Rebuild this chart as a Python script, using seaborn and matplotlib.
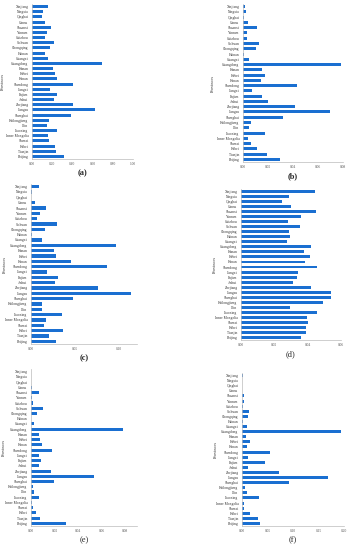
import pandas as pd
import matplotlib
matplotlib.use("Agg")
import matplotlib.pyplot as plt
import seaborn as sns
from matplotlib.ticker import FormatStrFormatter

sns.set_style("white")
plt.rcParams["font.family"] = ["Liberation Serif", "DejaVu Serif"]

# provinces, bottom to top as drawn
provinces = ["Beijing", "Tianjin", "Hebei", "Shanxi", "Inner Mongolia", "Liaoning", "Jilin",
             "Heilongjiang", "Shanghai", "Jiangsu", "Zhejiang", "Anhui", "Fujian", "Jiangxi",
             "Shandong", "Henan", "Hubei", "Hunan", "Guangdong", "Guangxi", "Hainan",
             "Chongqing", "Sichuan", "Guizhou", "Yunnan", "Shaanxi", "Gansu", "Qinghai",
             "Ningxia", "Xinjiang"]

vals_a = [0.32, 0.24, 0.223, 0.17, 0.154, 0.246, 0.148, 0.164, 0.384, 0.623, 0.403, 0.22,
          0.252, 0.18, 0.403, 0.252, 0.23, 0.207, 0.69, 0.154, 0.125, 0.18, 0.213, 0.125,
          0.148, 0.19, 0.131, 0.098, 0.108, 0.157]
vals_b = [0.0299, 0.0195, 0.011, 0.0067, 0.004, 0.0179, 0.0048, 0.0061, 0.0323, 0.0693,
          0.0413, 0.02, 0.0155, 0.0075, 0.0435, 0.0144, 0.0179, 0.0152, 0.0787, 0.0048,
          0.0008, 0.0104, 0.013, 0.003, 0.0035, 0.0115, 0.0037, 0.001, 0.0027, 0.0019]
vals_c = [0.0282, 0.021, 0.037, 0.0153, 0.0176, 0.0351, 0.0122, 0.013, 0.0477, 0.1137,
          0.076, 0.0271, 0.0305, 0.0187, 0.0866, 0.0454, 0.0282, 0.0263, 0.0966, 0.0122,
          0.001, 0.0156, 0.0302, 0.0065, 0.0103, 0.0168, 0.0042, 0.0002, 0.0015, 0.0088]
vals_d = [0.0358, 0.039, 0.039, 0.04, 0.0396, 0.0454, 0.0292, 0.049, 0.0538, 0.0542,
          0.042, 0.0314, 0.0336, 0.0342, 0.0456, 0.0382, 0.0414, 0.038, 0.042, 0.0278,
          0.0294, 0.0286, 0.0354, 0.0282, 0.0362, 0.045, 0.0302, 0.0246, 0.0286, 0.0442]
vals_e = [0.0299, 0.0076, 0.0039, 0.0014, 0.0008, 0.0068, 0.0028, 0.002, 0.0192, 0.0538,
          0.0172, 0.0068, 0.0087, 0.0068, 0.0177, 0.0096, 0.0079, 0.0068, 0.0783, 0.0025,
          0.0001, 0.0051, 0.0101, 0.0017, 0.0008, 0.0065, 0.0011, 0.0, 0.0001, 0.0003]
vals_f = [0.036, 0.032, 0.0157, 0.0039, 0.0039, 0.0333, 0.0092, 0.0052, 0.0915, 0.168,
          0.0732, 0.0111, 0.0458, 0.0111, 0.0549, 0.0105, 0.0163, 0.0078, 0.195, 0.0092,
          0.0026, 0.0111, 0.0137, 0.002, 0.0039, 0.0046, 0.0003, 0.0, 0.0007, 0.0026]

panels = [
    ("(a)", vals_a, (0, 1.0), [0, 0.2, 0.4, 0.6, 0.8, 1.0], (32, 133, 4, 159), True, -0.27),
    ("(b)", vals_b, (0, 0.08), [0, 0.02, 0.04, 0.06, 0.08], (243, 343, 4, 162), True, -0.28),
    ("(c)", vals_c, (0, 0.121), [0, 0.05, 0.10], (31, 137, 184, 344), True, -0.23),
    ("(d)", vals_d, (0, 0.06), [0, 0.02, 0.04, 0.06], (241, 341, 189, 340), False, -0.24),
    ("(e)", vals_e, (0, 0.09), [0, 0.02, 0.04, 0.06, 0.08], (31, 137, 369, 526), False, -0.24),
    ("(f)", vals_f, (0, 0.20), [0, 0.05, 0.10, 0.15, 0.20], (242, 344, 373, 526), False, -0.235),
]

W, H = 350, 550
fig = plt.figure(figsize=(W / 100, H / 100), dpi=100)

for label, vals, xlim, ticks, (l, r, t, b), bold, ylab_x in panels:
    ax = fig.add_axes([l / W, 1 - b / H, (r - l) / W, (b - t) / H])
    df = pd.DataFrame({"Province": provinces, "Value": vals})
    sns.barplot(data=df, x="Value", y="Province", order=provinces[::-1],
                color="#1a6fd1", saturation=1, width=0.58, linewidth=0, ax=ax)
    ax.set_xlim(*xlim)
    ax.set_xticks(ticks)
    ax.xaxis.set_major_formatter(FormatStrFormatter("%.2f"))
    ax.tick_params(axis="both", labelsize=2.6, length=1, width=0.3, pad=1.5, colors="#555555")
    ax.tick_params(axis="y", labelcolor="#333333")
    ax.set_xlabel("")
    ax.set_ylabel("Provinces", fontsize=3.2, color="#333333")
    ax.yaxis.set_label_coords(ylab_x, 0.5)
    for s in ["top", "right"]:
        ax.spines[s].set_visible(False)
    for s in ["left", "bottom"]:
        ax.spines[s].set_color("#bbbbbb")
        ax.spines[s].set_linewidth(0.5)
    cx = (l + r) / 2 / W
    fig.text(cx, 1 - (b + 14) / H, label, ha="center", va="center", fontsize=6,
             fontweight="bold" if bold else "normal")

fig.savefig("out.png", dpi=100)
